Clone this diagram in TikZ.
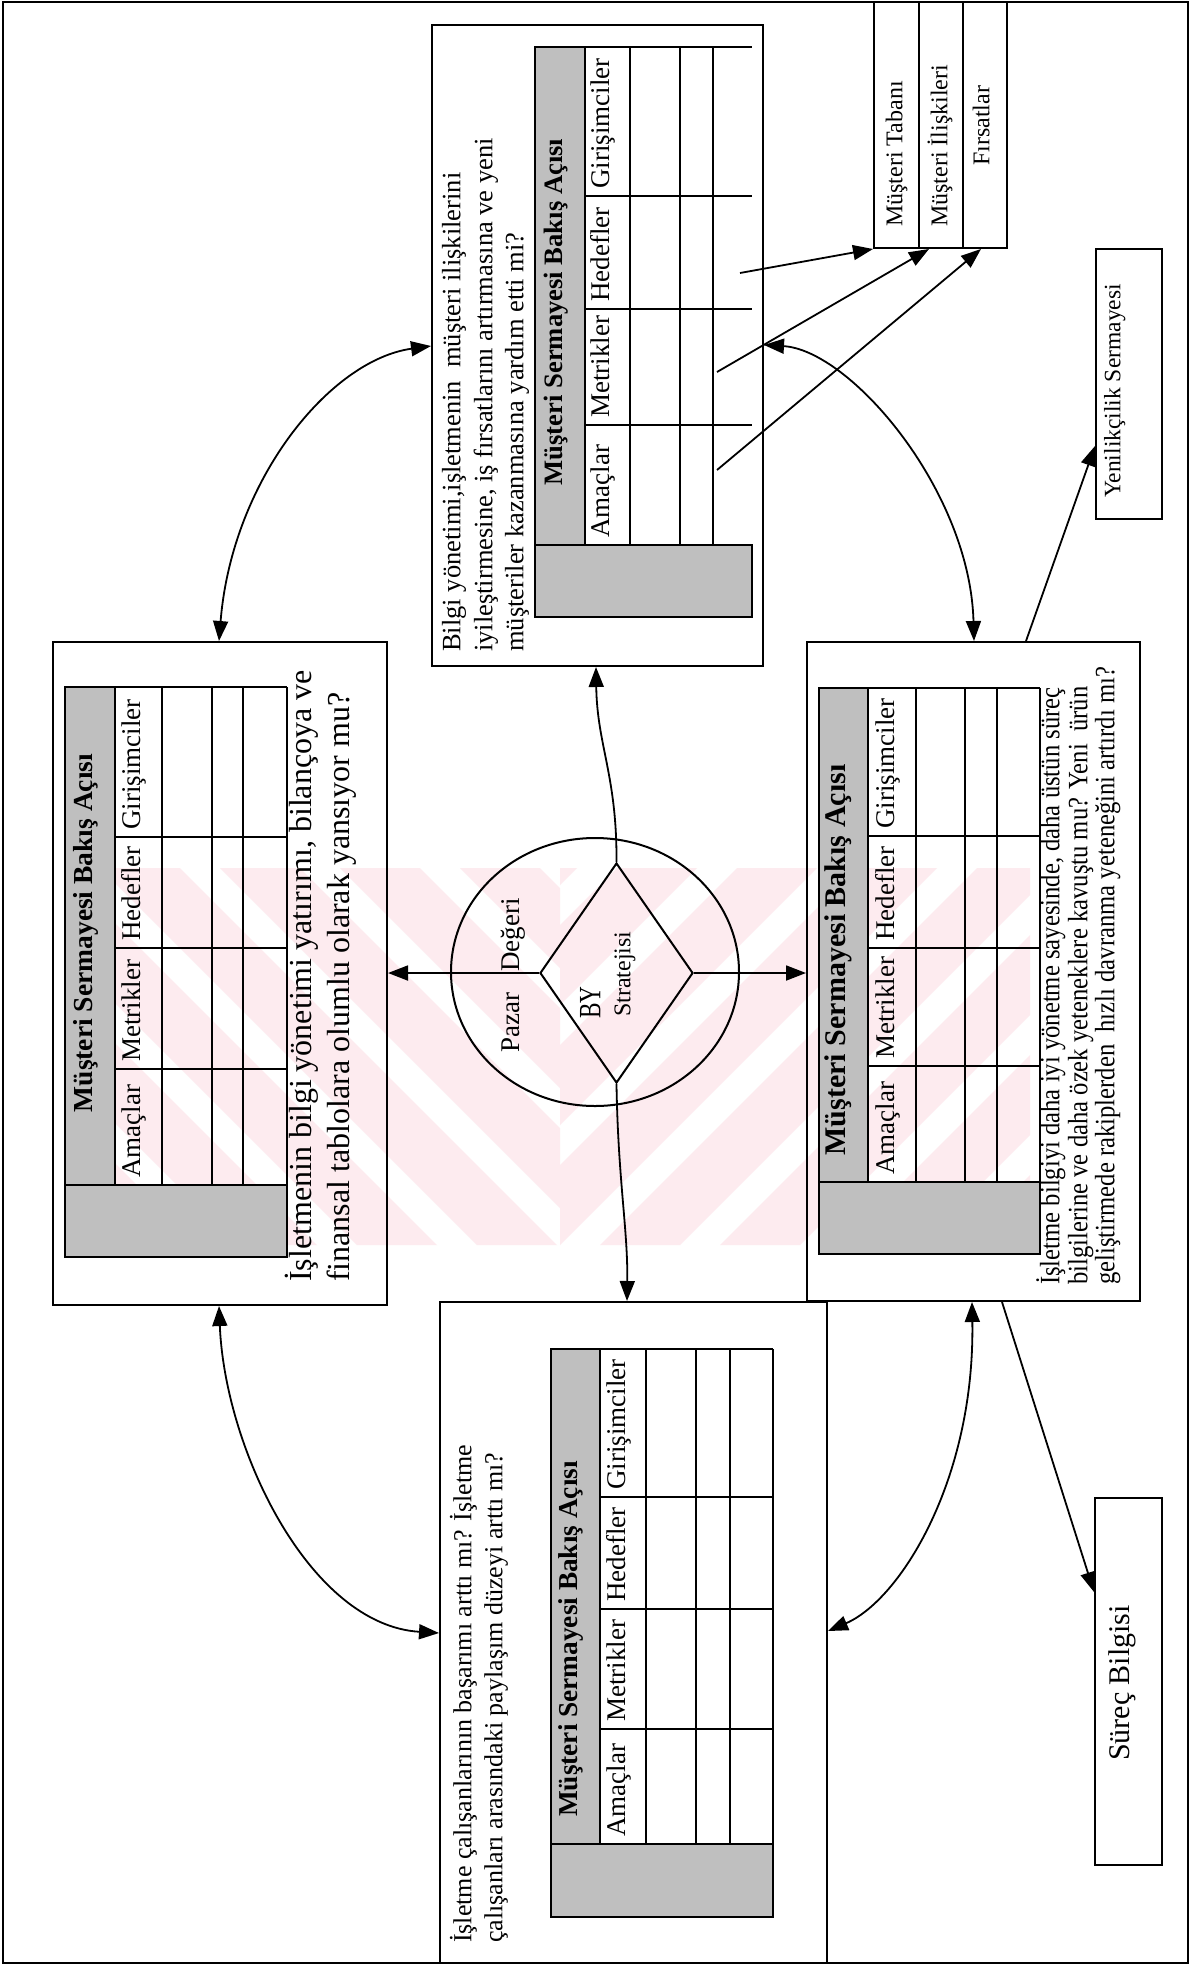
\documentclass[tikz,border=0pt]{standalone}
\usepackage{fontspec}
\setmainfont{Liberation Serif}
\newfontfamily\narrowrm{Liberation Serif}[FakeStretch=0.88]
\newfontfamily\tightrm{Liberation Serif}[FakeStretch=0.75]
\usetikzlibrary{arrows.meta,calc,fit,shapes.geometric}
\newcommand\setfs[1]{\fontsize{#1}{#1}\selectfont}
\definecolor{wmpink}{RGB}{253,235,239}

% row/column positions of a perspective table
\newcommand\tablecols[6]{\def\tXa{#1}\def\tXb{#2}\def\tXc{#3}\def\tXd{#4}\def\tXe{#5}\def\tXf{#6}}
\newcommand\tablerows[6]{\def\tYa{#1}\def\tYb{#2}\def\tYc{#3}\def\tYd{#4}\def\tYe{#5}\def\tYf{#6}}
% #1 name prefix, #2 title centre, #3 title size, #4 = 1 draws the outer edge
\newcommand\drawtable[4]{%
  \draw[shade] (\tXa,\tYa) rectangle (\tXb,\tYe);
  \draw[shade] (\tXa,\tYe) rectangle (\tXf,\tYf);
  \foreach \yy in {\tYa,\tYb,\tYc,\tYd} \draw[grid] (\tXb,\yy) -- (\tXf,\yy);
  \foreach \xx in {\tXc,\tXd,\tXe} \draw[grid] (\xx,\tYa) -- (\xx,\tYe);
  \ifnum#4=1 \draw[grid] (\tXf,\tYa) -- (\tXf,\tYe);\fi
  \node[vmid, font={\bfseries\setfs{#3}}] (#1-title) at ({(\tXa+\tXb)/2},#2) {Müşteri Sermayesi Bakış Açısı};
  \node[vtxt, font=\setfs{27}] (#1-h1) at ({(\tXb+\tXc)/2},\tYe-7) {Amaçlar};
  \node[vtxt, font=\setfs{27}] (#1-h2) at ({(\tXb+\tXc)/2},\tYd-7) {Metrikler};
  \node[vtxt, font=\setfs{27}] (#1-h3) at ({(\tXb+\tXc)/2},\tYc-7) {Hedefler};
  \node[vtxt, font=\setfs{27}] (#1-h4) at ({(\tXb+\tXc)/2},\tYb-7) {Girişimciler};
}

\begin{document}
\begin{tikzpicture}[x=1pt,y=-1pt,
  box/.style={draw, line width=2pt, inner sep=0pt},
  grid/.style={line width=1.5pt},
  shade/.style={fill=black!25, draw, line width=1.5pt},
  vtxt/.style={rotate=90, anchor=mid west, inner sep=0pt},
  vmid/.style={rotate=90, anchor=mid, inner sep=0pt},
  tip/.tip={Triangle[length=20pt,width=15pt]},
  arr/.style={line width=1.8pt, -tip},
  dbl/.style={line width=1.8pt, tip-tip}]
\useasboundingbox (0,0) rectangle (1198,1973);
\fill[white] (0,0) rectangle (1198,1973);

% faint pink emblem in the background
\begin{scope}
  \clip (100,868) rectangle (560,1245);
  \foreach \s in {-380,-260,...,560}
    \fill[wmpink] (\s,868) -- ++(80,0) -- ++(377,377) -- ++(-80,0) -- cycle;
\end{scope}
\begin{scope}
  \clip (560,868) rectangle (1030,1245);
  \foreach \s in {120,240,...,1080}
    \fill[wmpink] (\s,1245) -- ++(80,0) -- ++(377,-377) -- ++(-80,0) -- cycle;
\end{scope}

% outer frame
\draw[line width=2.5pt] (3,2) rectangle (1188,1963);

% main boxes
\node[box, fit={(53,642) (387,1305)}] (lb) {};
\node[box, fit={(432,25) (763,666)}] (tm) {};
\node[box, fit={(807,642) (1140,1301)}] (rb) {};
\node[box, fit={(440,1302) (827,1963)}] (bl) {};

% customer capital boxes
\node[box, fit={(874,2) (919,248)}] (st1) {};
\node[box, fit={(919,2) (963,248)}] (st2) {};
\node[box, fit={(963,2) (1007,248)}] (st3) {};
\node[vtxt, font=\setfs{24}] (st1t) at (900,227) {Müşteri Tabanı};
\node[vtxt, font=\setfs{24}] (st2t) at (945,227) {Müşteri İlişkileri};
\node[vmid, font=\setfs{24}] (st3t) at (987,126) {Fırsatlar};

\node[box, fit={(1096,249) (1162,519)}] (yen) {};
\node[vtxt, font=\setfs{23.5}] (yent) at (1118,498) {Yenilikçilik Sermayesi};
\node[box, fit={(1095,1498) (1162,1865)}] (sur) {};
\node[vmid, font=\setfs{30}] (surt) at (1127,1683) {Süreç Bilgisi};

% tables
\tablecols{65}{115}{162}{212}{243}{287}
\tablerows{687}{837}{948}{1069}{1185}{1257}
\drawtable{lbtab}{933}{27.5}{1}
\tablecols{535}{585}{630}{680}{713}{752}
\tablerows{47}{196}{309}{425}{545}{617}
\drawtable{tmtab}{312}{26.6}{0}
\tablecols{819}{868}{916}{965}{997}{1040}
\tablerows{688}{836}{948}{1066}{1182}{1254}
\drawtable{rbtab}{960}{30}{1}
\tablecols{551}{600}{646}{696}{730}{773}
\tablerows{1349}{1497}{1609}{1729}{1844}{1917}
\drawtable{bltab}{1639}{27.3}{1}

% questions
\node[vtxt, font=\setfs{32}] (lbq1) at (309,1282) {İşletmenin bilgi yönetimi yatırımı, bilançoya ve};
\node[vtxt, font=\setfs{32}] (lbq2) at (347,1282) {finansal tablolara olumlu olarak yansıyor mu?};
\node[vtxt, font=\setfs{26.5}] (tmq1) at (458,652) {Bilgi yönetimi,işletmenin~~müşteri ilişkilerini};
\node[vtxt, font=\setfs{26.5}] (tmq2) at (490,652) {iyileştirmesine, iş fırsatlarını artırmasına ve yeni};
\node[vtxt, font=\setfs{26.5}] (tmq3) at (521,652) {müşteriler kazanmasına yardım etti mi?};
\node[vtxt, font={\narrowrm\setfs{28}}] (rbq1) at (1057,1285) {İşletme bilgiyi daha iyi yönetme sayesinde, daha üstün süreç};
\node[vtxt, font={\narrowrm\setfs{28}}] (rbq2) at (1085,1285) {bilgilerine ve daha özek yeteneklere kavuştu mu? Yeni~~ürün};
\node[vtxt, font={\narrowrm\setfs{28}}] (rbq3) at (1112,1285) {geliştirmede rakiplerden~~hızlı davranma yeteneğini artırdı mı?};
\node[vtxt, font=\setfs{26}] (blq1) at (469,1943) {İşletme çalışanlarının başarımı arttı mı? İşletme};
\node[vtxt, font=\setfs{26}] (blq2) at (500,1943) {çalışanları arasındaki paylaşım düzeyi arttı mı?};

% market value and strategy
\node[draw, ellipse, line width=2pt, inner sep=0pt, minimum width=288pt, minimum height=268pt] (pv) at (595,972) {};
\node[draw, diamond, line width=2pt, inner sep=0pt, minimum width=153pt, minimum height=220pt] (dm) at (616.5,973) {};
\node[vtxt, font=\setfs{27}] (pvt1) at (517,1053) {Pazar};
\node[vtxt, font=\setfs{27}] (pvt2) at (517,972) {Değeri};
\node[vtxt, font={\tightrm\setfs{31}}] (dmt1) at (598,1019) {BY};
\node[vtxt, font=\setfs{24}] (dmt2) at (628,1017) {Stratejisi};

% connectors
\draw[dbl] ([xshift=167pt]lb.north west) .. controls (232,480) and (330,360) .. ([yshift=-322pt]tm.north west);
\draw[dbl] ([xshift=167pt]lb.south west) .. controls (225,1450) and (310,1625) .. ([yshift=-332pt]bl.north west);
\draw[dbl] ([yshift=-321pt]tm.north east) .. controls (850,350) and (970,490) .. ([xshift=168pt]rb.north west);
\draw[dbl] ([xshift=166pt]rb.south west) .. controls (975,1480) and (900,1600) .. ([yshift=-330pt]bl.north east);
\draw[arr] (dm.north) .. controls (617,775) and (597,745) .. ([xshift=165pt]tm.south west);
\draw[arr] (dm.south) .. controls (618,1180) and (628,1230) .. ([xshift=188pt]bl.north west);
\draw[arr] (dm.west) -- (lb.east |- dm.west);
\draw[arr] (dm.east) -- (rb.west |- dm.east);

\coordinate (c1) at (740,273);
\coordinate (c2) at (717,372);
\coordinate (c3) at (717,470);
\draw[arr] (c1) -- (st1.south west);
\draw[arr] (c2) -- ([xshift=11pt]st2.south west);
\draw[arr] (c3) -- ([xshift=19pt]st3.south west);
\draw[arr] ([xshift=220pt]rb.north west) -- ([yshift=-198pt]yen.north west);
\draw[arr] ([xshift=196pt]rb.south west) -- ([yshift=-95pt]sur.north west);
\end{tikzpicture}
\end{document}
